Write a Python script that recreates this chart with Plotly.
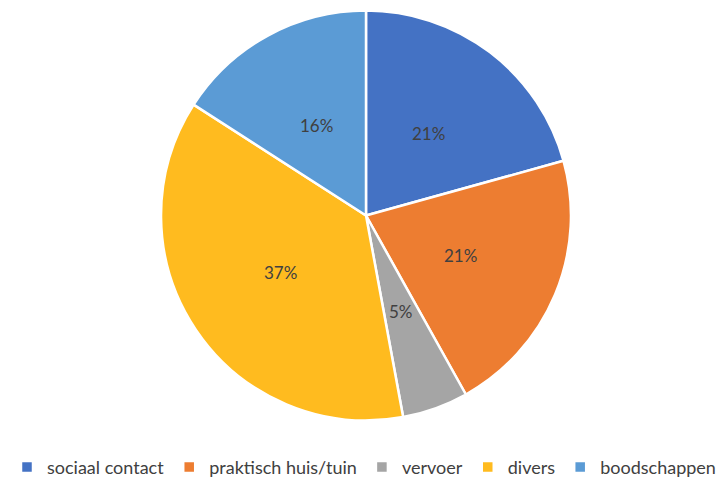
import math
import plotly.graph_objects as go

categories = ["sociaal contact", "praktisch huis/tuin", "vervoer", "divers", "boodschappen"]
values = [20.7, 21.2, 5.2, 37.0, 15.9]
colors = ["#4472C4", "#ED7D31", "#A5A5A5", "#FFBB1F", "#5B9BD5"]

W, H = 728, 479
dom_x = [0.2212, 0.7843]
dom_y = [0.1211, 0.9791]

fig = go.Figure(go.Pie(
    labels=categories,
    values=values,
    sort=False,
    direction="clockwise",
    rotation=0,
    marker=dict(colors=colors, line=dict(color="white", width=2.5)),
    textinfo="none",
    domain=dict(x=dom_x, y=dom_y),
    hoverinfo="label+percent",
))

# data labels placed like Excel (half radius along the slice bisector)
cx = (dom_x[0] + dom_x[1]) / 2 * W
cy = (dom_y[0] + dom_y[1]) / 2 * H
r = min((dom_x[1] - dom_x[0]) * W, (dom_y[1] - dom_y[0]) * H) / 2
total = sum(values)
cum = 0
for v in values:
    mid = (cum + v / 2) / total * 2 * math.pi
    cum += v
    px = cx + 0.5 * r * math.sin(mid)
    py = cy + 0.5 * r * math.cos(mid)
    fig.add_annotation(x=px / W, y=py / H, xref="paper", yref="paper",
                       xanchor="center", yanchor="middle",
                       text=f"{round(100 * v / total)}%", showarrow=False,
                       font=dict(size=17, color="#404040", family="Lato"))

fig.update_layout(
    width=W, height=H,
    margin=dict(l=0, r=0, t=0, b=0, autoexpand=False),
    paper_bgcolor="white",
    font=dict(family="Lato", color="#404040", size=15),
    legend=dict(orientation="h", x=0.5, xanchor="center", y=-0.014, yanchor="bottom",
                font=dict(size=18, color="#404040"), itemwidth=30,
                traceorder="normal"),
    showlegend=True,
)

fig.write_html("out.html", config={"displayModeBar": False},
               post_script="document.body.style.margin='0';")
